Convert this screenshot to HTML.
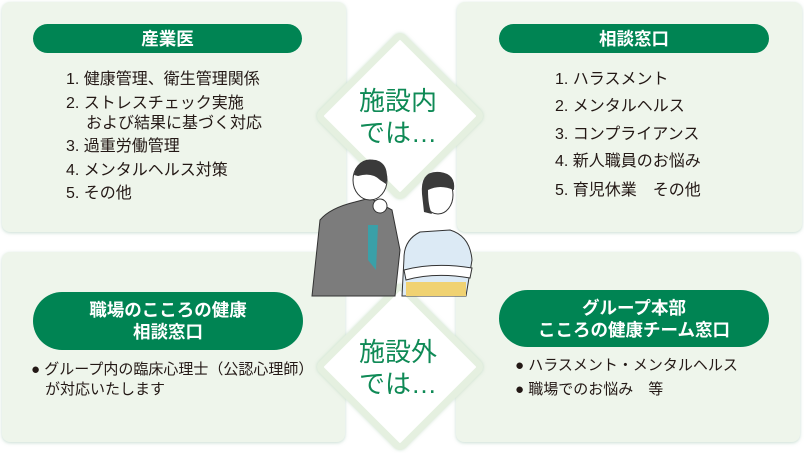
<!DOCTYPE html>
<html><head><meta charset="utf-8"><style>
body{margin:0;width:804px;height:449px;background:#fff;position:relative;overflow:hidden;font-family:"Liberation Sans","Noto Sans CJK JP",sans-serif;}
.p{position:absolute;background:#eef5eb;border-radius:8px;box-shadow:0 1px 3px rgba(150,190,170,.5);}
.pill{position:absolute;background:#008453;color:#fff;border-radius:30px;text-align:center;font-size:17.5px;font-weight:bold;display:flex;align-items:center;justify-content:center;line-height:22px;}
.t{position:absolute;color:#231815;font-size:16px;line-height:19px;white-space:nowrap;}
.b{font-size:15px;}
.d{position:absolute;width:108px;height:108px;background:#fff;border:7px solid #e5f0e0;border-radius:8px;transform:rotate(45deg);box-shadow:0 0 3px rgba(160,200,170,.5);}
.dt{position:absolute;color:#0f8a56;font-size:26px;line-height:32px;text-align:left;white-space:nowrap;}
</style></head><body>
<div class="p" style="left:2px;top:2px;width:344px;height:230px"></div>
<div class="p" style="left:457px;top:2px;width:345px;height:230px"></div>
<div class="p" style="left:2px;top:252px;width:343px;height:190px"></div>
<div class="p" style="left:456px;top:252px;width:344px;height:190px"></div>

<div class="pill" style="left:33px;top:24px;width:269px;height:29px">産業医</div>
<div class="pill" style="left:499px;top:24px;width:270px;height:29px">相談窓口</div>
<div class="pill" style="left:33px;top:292px;width:270px;height:58px">職場のこころの健康<br>相談窓口</div>
<div class="pill" style="left:499px;top:290px;width:270px;height:57px">グループ本部<br>こころの健康チーム窓口</div>

<div class="t" style="left:66px;top:70px">1. 健康管理、衛生管理関係</div>
<div class="t" style="left:66px;top:94px">2. ストレスチェック実施</div>
<div class="t" style="left:86px;top:114px">および結果に基づく対応</div>
<div class="t" style="left:66px;top:137px">3. 過重労働管理</div>
<div class="t" style="left:66px;top:161px">4. メンタルヘルス対策</div>
<div class="t" style="left:66px;top:184px">5. その他</div>

<div class="t" style="left:555px;top:70px">1. ハラスメント</div>
<div class="t" style="left:555px;top:97px">2. メンタルヘルス</div>
<div class="t" style="left:555px;top:125px">3. コンプライアンス</div>
<div class="t" style="left:555px;top:152px">4. 新人職員のお悩み</div>
<div class="t" style="left:555px;top:181px">5. 育児休業　その他</div>

<div class="t b" style="left:31px;top:360px">● グループ内の臨床心理士（公認心理師）</div>
<div class="t b" style="left:45px;top:380px">が対応いたします</div>
<div class="t b" style="left:515px;top:356px">● ハラスメント・メンタルヘルス</div>
<div class="t b" style="left:515px;top:380px">● 職場でのお悩み　等</div>

<div class="d" style="left:339px;top:55px"></div>
<div class="d" style="left:339px;top:306px"></div>
<div class="dt" style="left:359px;top:85px">施設内<br>では…</div>
<div class="dt" style="left:359px;top:336px">施設外<br>では…</div>

<svg style="position:absolute;left:300px;top:150px" width="200" height="150">
<path d="M12 146 L20 70 Q30 58 55 52 L70 48 L92 60 L100 100 L95 146 Z" fill="#7c7c7c" stroke="#333" stroke-width="1"/>
<path d="M68 75 L78 75 L76 120 L68 110 Z" fill="#3aa0a8"/>
<ellipse cx="70" cy="30" rx="17" ry="20" fill="#fff" stroke="#333"/>
<path d="M54 25 Q58 8 76 10 Q90 14 86 34 L80 30 Q72 22 58 26Z" fill="#3a3a3a"/>
<circle cx="80" cy="56" r="7" fill="#fff" stroke="#333"/>
<path d="M102 146 L104 108 Q104 90 120 82 L150 80 Q170 86 172 110 L166 146 Z" fill="#dceaf5" stroke="#333" stroke-width="1"/>
<rect x="106" y="132" width="60" height="14" fill="#f0d272"/>
<path d="M104 120 Q135 112 172 118 L170 128 Q135 122 106 130 Z" fill="#fff" stroke="#333" stroke-width="1"/>
<ellipse cx="138" cy="45" rx="15" ry="19" fill="#fff" stroke="#333"/>
<path d="M122 44 Q120 20 140 22 Q156 24 154 40 Q140 34 128 40 Q128 56 132 64 L124 62Z" fill="#3a3a3a"/>
</svg>
</body></html>
